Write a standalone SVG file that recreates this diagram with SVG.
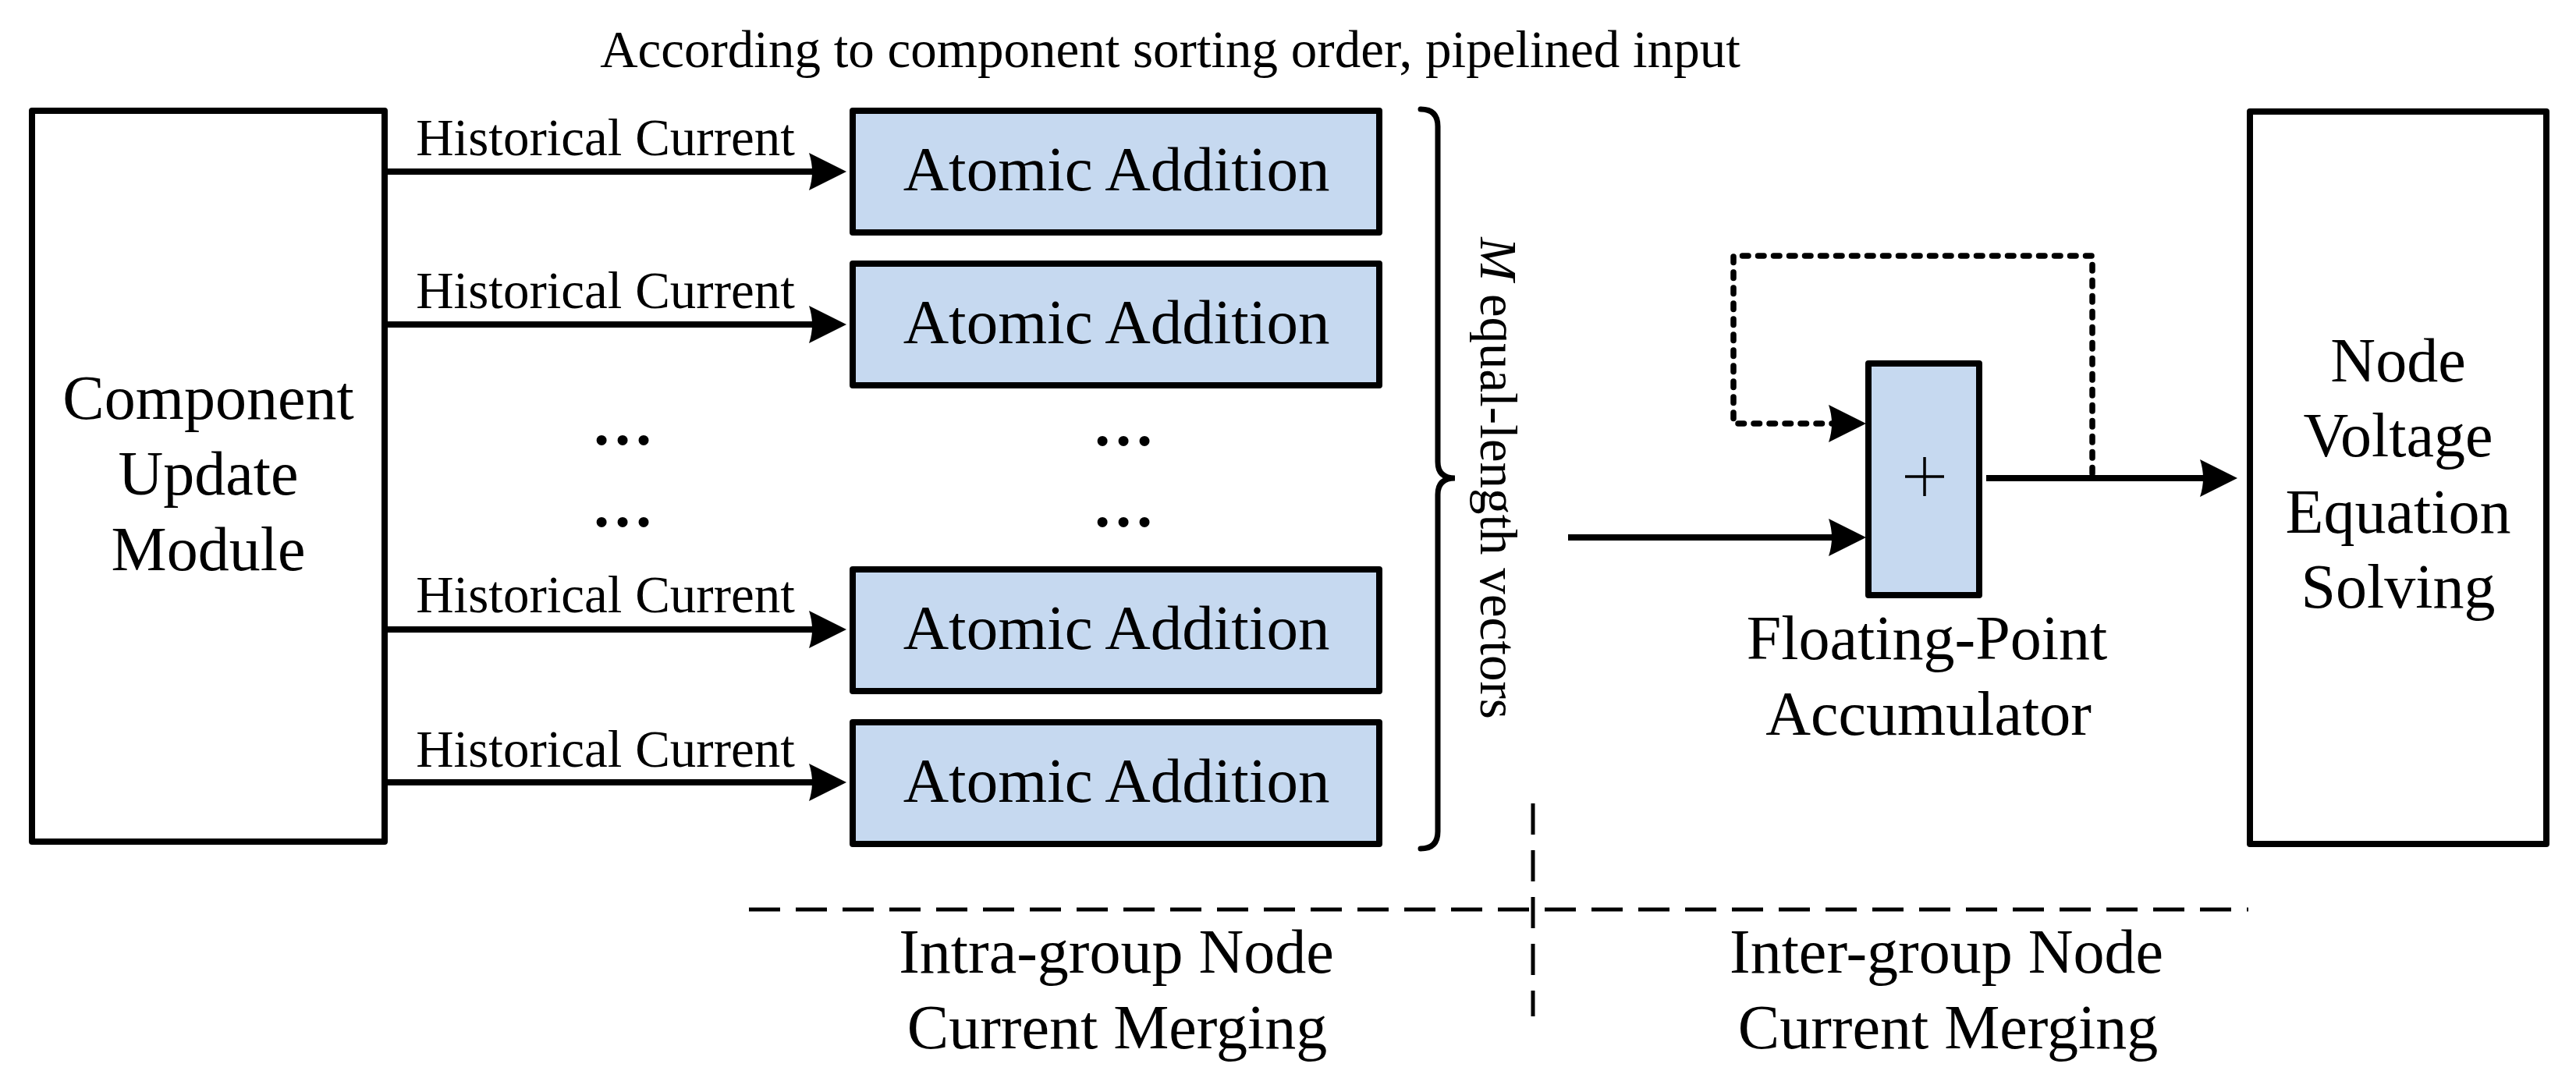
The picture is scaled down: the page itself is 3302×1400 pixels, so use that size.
<svg xmlns="http://www.w3.org/2000/svg" width="3302" height="1400" viewBox="0 0 3302 1400">
<style>
  text { font-family: "Liberation Serif", "Times New Roman", serif; fill: #000; }
  .big { font-size: 80px; text-anchor: middle; }
  .aa { font-size: 81px; text-anchor: middle; }
  .sm { font-size: 67px; text-anchor: middle; }
  .ell { font-size: 80px; font-weight: bold; text-anchor: middle; }
  .box { fill: #fff; stroke: #000; stroke-width: 8; stroke-linejoin: round; }
  .blue { fill: #C6D9F0; stroke: #000; stroke-width: 8; stroke-linejoin: round; }
  .ln { fill: none; stroke: #000; stroke-width: 8; }
  .dot { fill: none; stroke: #000; stroke-width: 7.5; stroke-dasharray: 7.5 12.5; stroke-linecap: round; stroke-linejoin: round; }
  .dash { fill: none; stroke: #000; stroke-width: 5; stroke-dasharray: 40 20; }
</style>
<defs>
  <marker id="ah" markerUnits="userSpaceOnUse" viewBox="0 0 50 50" markerWidth="50" markerHeight="50" refX="38" refY="25" orient="auto">
    <path d="M50,25 L2,1 Q10,25 2,49 Z" fill="#000"/>
  </marker>
</defs>
<rect width="3302" height="1400" fill="#fff"/>

<text class="sm" x="1500" y="86">According to component sorting order, pipelined input</text>

<g id="component-update-module">
  <rect class="box" x="41" y="142" width="452" height="937"/>
  <text class="big" x="267" y="537">Component</text>
  <text class="big" x="267" y="634">Update</text>
  <text class="big" x="267" y="731">Module</text>
</g>

<g id="atomic-addition-1">
  <rect class="blue" x="1093" y="142" width="675" height="156"/>
  <text class="aa" x="1431" y="244">Atomic Addition</text>
</g>
<g id="atomic-addition-2">
  <rect class="blue" x="1093" y="338" width="675" height="156"/>
  <text class="aa" x="1431" y="440">Atomic Addition</text>
</g>
<g id="atomic-addition-3">
  <rect class="blue" x="1093" y="730" width="675" height="156"/>
  <text class="aa" x="1431" y="832">Atomic Addition</text>
</g>
<g id="atomic-addition-4">
  <rect class="blue" x="1093" y="926" width="675" height="156"/>
  <text class="aa" x="1431" y="1028">Atomic Addition</text>
</g>

<g id="ellipses">
  <text class="ell" x="798" y="570">…</text>
  <text class="ell" x="798" y="675">…</text>
  <text class="ell" x="1440" y="571">…</text>
  <text class="ell" x="1440" y="675">…</text>
</g>

<g id="brace">
  <path d="M1821,140 Q1843,140 1843,162 L1843,592 Q1843,613 1865,613 Q1843,613 1843,634 L1843,1066 Q1843,1088 1821,1088" fill="none" stroke="#000" stroke-width="7" stroke-linecap="round"/>
  <text class="sm" transform="translate(1898,613) rotate(90)"><tspan font-style="italic">M</tspan> equal-length vectors</text>
</g>

<g id="accumulator">
  <rect class="blue" x="2395" y="466" width="142" height="297" stroke-width="7"/>
  <line x1="2442" y1="611" x2="2492" y2="611" stroke="#000" stroke-width="3.5"/>
  <line x1="2467" y1="586" x2="2467" y2="636" stroke="#000" stroke-width="3.5"/>
  <text class="big" x="2470" y="845">Floating-Point</text>
  <text class="big" x="2472" y="942">Accumulator</text>
</g>

<g id="node-voltage-equation-solving">
  <rect class="box" x="2884" y="143" width="380" height="939"/>
  <text class="big" x="3074" y="489">Node</text>
  <text class="big" x="3074" y="585">Voltage</text>
  <text class="big" x="3074" y="683">Equation</text>
  <text class="big" x="3074" y="779">Solving</text>
</g>

<g id="connectors">
  <line class="ln" x1="493" y1="220" x2="1073" y2="220" marker-end="url(#ah)"/>
  <line class="ln" x1="493" y1="416" x2="1073" y2="416" marker-end="url(#ah)"/>
  <line class="ln" x1="493" y1="807" x2="1073" y2="807" marker-end="url(#ah)"/>
  <line class="ln" x1="493" y1="1003" x2="1073" y2="1003" marker-end="url(#ah)"/>
  <text class="sm" x="776" y="199">Historical Current</text>
  <text class="sm" x="776" y="395">Historical Current</text>
  <text class="sm" x="776" y="785">Historical Current</text>
  <text class="sm" x="776" y="983">Historical Current</text>
  <line class="ln" x1="2010" y1="689" x2="2380" y2="689" marker-end="url(#ah)"/>
  <line class="ln" x1="2546" y1="613" x2="2856" y2="613" marker-end="url(#ah)"/>
  <path class="dot" d="M2682,607 L2682,328 L2222,328 L2222,543 L2380,543" marker-end="url(#ah)"/>
</g>

<g id="partition">
  <line class="dash" x1="960" y1="1166" x2="2882" y2="1166"/>
  <line class="dash" x1="1965" y1="1030" x2="1965" y2="1303"/>
  <text class="big" x="1431" y="1247">Intra-group Node</text>
  <text class="big" x="1432" y="1344">Current Merging</text>
  <text class="big" x="2495" y="1247">Inter-group Node</text>
  <text class="big" x="2497" y="1344">Current Merging</text>
</g>
</svg>
